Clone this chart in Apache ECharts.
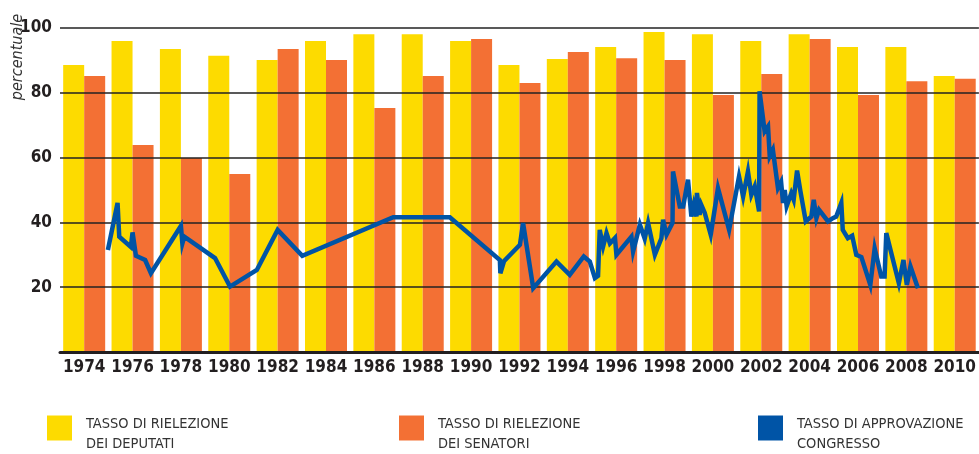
<!DOCTYPE html>
<html>
<head>
<meta charset="utf-8">
<script src="https://cdn.jsdelivr.net/npm/echarts@6/dist/echarts.min.js"></script>
<style>
  html, body { margin: 0; padding: 0; background: #fff; }
  #main { width: 979px; height: 454px; }
</style>
</head>
<body>
<div id="main"></div>
<script>
// data
var years = ['1974', '1976', '1978', '1980', '1982', '1984', '1986', '1988', '1990', '1992',
             '1994', '1996', '1998', '2000', '2002', '2004', '2006', '2008', '2010'];

var deputati = [88.6, 96.0, 93.5, 91.4, 90.1, 96.0, 98.1, 98.1, 96.0, 88.6,
                90.4, 94.1, 98.8, 98.1, 96.0, 98.1, 94.1, 94.1, 85.2];

var senatori = [85.2, 63.9, 59.9, 54.9, 93.5, 90.1, 75.3, 85.2, 96.6, 83.0,
                92.6, 90.7, 90.1, 79.3, 85.8, 96.6, 79.3, 83.6, 84.3];

// approval: time (decimal year) and value
var approvalTime = [
  1974.98, 1975.38, 1975.45, 1975.93, 1976.00, 1976.14, 1976.52, 1976.76, 1978.00, 1978.06,
  1978.14, 1979.41, 1980.03, 1981.14, 1982.00, 1983.02, 1986.78, 1989.12, 1991.19, 1991.21,
  1991.36, 1992.02, 1992.15, 1992.57, 1993.53, 1994.08, 1994.66, 1994.91, 1995.12, 1995.25,
  1995.32, 1995.46, 1995.60, 1995.74, 1995.95, 1996.01, 1996.63, 1996.70, 1996.98, 1997.18,
  1997.32, 1997.60, 1997.87, 1997.94, 1998.08, 1998.33, 1998.35, 1998.63, 1998.77, 1998.97,
  1999.11, 1999.21, 1999.32, 1999.34, 1999.45, 1999.52, 1999.66, 1999.91, 2000.21, 2000.67,
  2001.08, 2001.25, 2001.45, 2001.59, 2001.73, 2001.91, 2001.93, 2002.14, 2002.28, 2002.35,
  2002.48, 2002.69, 2002.82, 2002.90, 2002.97, 2003.05, 2003.24, 2003.34, 2003.48, 2003.62,
  2003.84, 2004.07, 2004.17, 2004.28, 2004.39, 2004.76, 2004.96, 2005.10, 2005.31, 2005.37,
  2005.58, 2005.76, 2005.93, 2006.14, 2006.51, 2006.69, 2006.96, 2007.10, 2007.17, 2007.69,
  2007.88, 2008.02, 2008.17, 2008.48
];
var approval = [
  31.5, 46.0, 35.6, 32.4, 36.9, 29.7, 28.4, 24.3, 38.9, 33.5,
  35.6, 29.0, 20.2, 25.3, 37.7, 29.7, 41.6, 41.6, 28.4, 24.3,
  28.0, 33.1, 39.8, 19.7, 27.9, 23.8, 29.5, 27.9, 22.8, 23.5,
  37.7, 32.6, 36.7, 33.5, 35.2, 30.0, 35.6, 31.0, 39.3, 35.0,
  39.8, 30.0, 35.1, 40.8, 36.2, 39.8, 55.7, 44.9, 44.9, 53.2,
  41.8, 45.4, 41.8, 49.1, 42.3, 45.4, 43.0, 36.2, 50.6, 37.7,
  54.2, 48.0, 55.7, 48.5, 51.1, 43.4, 80.5, 68.1, 69.6, 60.4,
  62.4, 50.6, 52.5, 46.0, 50.0, 45.0, 49.0, 47.0, 56.0, 49.6,
  40.3, 41.8, 47.0, 41.3, 43.9, 40.3, 41.3, 41.8, 46.0, 37.7,
  35.1, 35.9, 30.0, 29.3, 20.7, 32.0, 23.3, 23.3, 36.7, 21.2,
  28.4, 20.7, 26.4, 19.7
];

var nameDep = 'TASSO DI RIELEZIONE\nDEI DEPUTATI';
var nameSen = 'TASSO DI RIELEZIONE\nDEI SENATORI';
var nameApp = 'TASSO DI APPROVAZIONE\nCONGRESSO';

var narrow = "'Liberation Sans Narrow', 'DejaVu Sans Condensed', sans-serif";
var ink = '#231f20';

var approvalData = approvalTime.map(function (t, i) { return [t, approval[i]]; });

function legendAt(name, left) {
    return {
        data: [name],
        left: left,
        top: 405,
        padding: 0,
        icon: 'rect',
        itemWidth: 25,
        itemHeight: 25,
        selectedMode: false,
        // an empty first line pushes the two text lines a little below the square
        formatter: function (n) {
            return '{g| }\n' + n.split('\n').map(function (s) { return '{t|' + s + '}'; }).join('\n');
        },
        textStyle: {
            padding: [0, 0, 0, 9],
            rich: {
                g: { fontSize: 6, lineHeight: 12 },
                t: { fontFamily: narrow, fontSize: 14.5, lineHeight: 20, color: '#333' }
            }
        }
    };
}

var myChart = echarts.init(document.getElementById('main'));

option = {
    backgroundColor: '#fff',
    animation: false,
    grid: { left: 60, right: 0, top: 28, bottom: 102 },
    graphic: [{
        type: 'text',
        x: 18,
        y: 57,
        rotation: Math.PI / 2,
        style: {
            text: 'percentuale',
            fontFamily: narrow,
            fontStyle: 'italic',
            fontSize: 16,
            fill: '#333',
            align: 'center',
            verticalAlign: 'middle'
        }
    }],
    legend: [legendAt(nameDep, 47), legendAt(nameSen, 399), legendAt(nameApp, 758)],
    xAxis: [{
        type: 'category',
        data: years,
        z: 3,
        axisTick: { show: false },
        axisLine: { lineStyle: { color: ink, width: 3 } },
        axisLabel: {
            interval: 0,
            fontFamily: narrow,
            fontWeight: 'bold',
            fontSize: 17,
            color: ink,
            margin: 7
        }
    }, {
        type: 'value',
        min: 1973,
        max: 2011,
        show: false
    }],
    yAxis: {
        type: 'value',
        min: 0,
        max: 100,
        interval: 20,
        z: 3,
        axisLine: { show: false },
        axisTick: { show: false },
        axisLabel: {
            fontFamily: narrow,
            fontWeight: 'bold',
            fontSize: 17,
            color: ink,
            margin: 8,
            padding: [0, 0, 6, 0],
            formatter: function (v) { return v === 0 ? '' : v; }
        },
        splitLine: { lineStyle: { color: '#222', width: 1.5 } }
    },
    series: [{
        name: nameDep,
        type: 'bar',
        data: deputati,
        barWidth: 21,
        barGap: '0%',
        itemStyle: { color: '#fddb00' }
    }, {
        name: nameSen,
        type: 'bar',
        data: senatori,
        barWidth: 21,
        barGap: '0%',
        itemStyle: { color: '#f37034' }
    }, {
        name: nameApp,
        type: 'line',
        xAxisIndex: 1,
        data: approvalData,
        z: 5,
        symbol: 'none',
        color: '#0054a6',
        itemStyle: { color: '#0054a6' },
        lineStyle: { color: '#0054a6', width: 4.5, join: 'miter', miterLimit: 6 }
    }]
};

myChart.setOption(option);
</script>
</body>
</html>
